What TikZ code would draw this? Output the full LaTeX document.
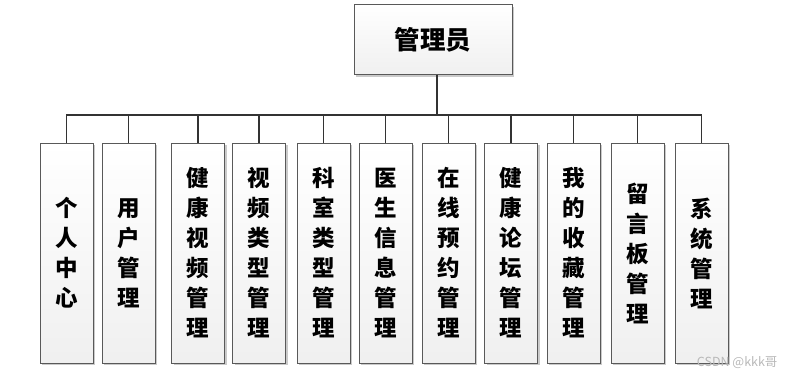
\documentclass[tikz,border=0pt]{standalone}
\usepackage{fontspec}
\newfontfamily\cjk{Noto Sans CJK SC}
\usetikzlibrary{shadows}
\begin{document}
\begin{tikzpicture}[x=1pt,y=-1pt,
  box/.style={draw=black!65, line width=0.8pt, top color=white, bottom color=black!6,
    drop shadow={shadow xshift=2pt, shadow yshift=-2pt, fill=black!35, opacity=0.6},
    inner sep=0pt, align=center, font=\cjk\bfseries\fontsize{22.5}{30}\selectfont},
  leaf/.style={box, minimum width=53pt, minimum height=220pt},
  conn/.style={draw=black!80, line width=1.5pt}]
\useasboundingbox (0,0) rectangle (789,376);
\node[box, minimum width=158pt, minimum height=70pt, font=\cjk\bfseries\fontsize{25.5}{30}\selectfont] (top) at (433,39.5) {管理员};
\node[leaf] (n1) at (66.5,253) {个\\人\\中\\心};
\node[leaf] (n2) at (128.5,253) {用\\户\\管\\理};
\node[leaf] (n3) at (198,253) {健\\康\\视\\频\\管\\理};
\node[leaf] (n4) at (259,253) {视\\频\\类\\型\\管\\理};
\node[leaf] (n5) at (323.5,253) {科\\室\\类\\型\\管\\理};
\node[leaf] (n6) at (385.5,253) {医\\生\\信\\息\\管\\理};
\node[leaf] (n7) at (448.5,253) {在\\线\\预\\约\\管\\理};
\node[leaf] (n8) at (511,253) {健\\康\\论\\坛\\管\\理};
\node[leaf] (n9) at (573.5,253) {我\\的\\收\\藏\\管\\理};
\node[leaf] (n10) at (637.5,253) {留\\言\\板\\管\\理};
\node[leaf] (n11) at (701.5,253) {系\\统\\管\\理};
\coordinate (bus) at (437,115);
\coordinate (ts) at (437,74.5);
\draw[conn] (ts) -- (bus);
\draw[conn] (n1.north) -- (n1.north |- bus) -- (n11.north |- bus) -- (n11.north);
\foreach \i in {2,...,10} {\draw[conn] (n\i.north) -- (n\i.north |- bus);}
\node[font=\cjk\fontsize{12.5}{14}\selectfont, text=black!28, anchor=east] (wm) at (781,363) {CSDN @kkk哥};
\end{tikzpicture}
\end{document}
